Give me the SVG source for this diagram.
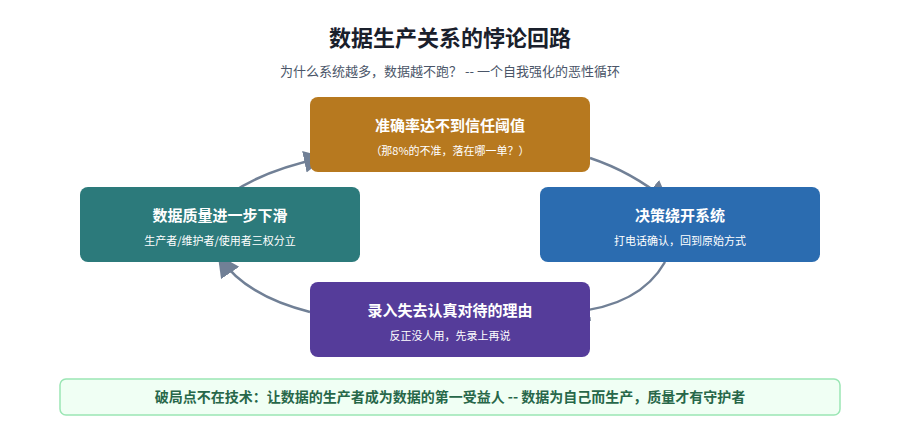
<svg xmlns="http://www.w3.org/2000/svg" width="900" height="430" viewBox="0 0 900 430">
<style>
text{font-family:"Noto Sans CJK SC","Noto Sans",sans-serif;text-anchor:middle}
.t{font-size:15px;font-weight:bold;fill:#fff}
.s{font-size:11px;fill:#fff}
.c{fill:none;stroke:#718096;stroke-width:2.5}
</style>
<defs>
<marker id="ah" markerUnits="userSpaceOnUse" markerWidth="24" markerHeight="24" refX="18" refY="11" orient="auto">
<path d="M0,0 L22,11 L0,22 z" fill="#718096"/>
</marker>
</defs>
<rect width="900" height="430" fill="#fff"/>
<text x="450" y="46" style="font-size:22px;font-weight:bold;fill:#1a202c">数据生产关系的悖论回路</text>
<text x="450" y="76" style="font-size:13px;fill:#4a5568">为什么系统越多，数据越不跑？ -- 一个自我强化的恶性循环</text>
<g id="connectors">
<path class="c" d="M590,158 Q632,172 666,200" marker-end="url(#ah)"/>
<path class="c" d="M665,262 Q640,306 572,312" marker-end="url(#ah)"/>
<path class="c" d="M310,312 Q246,296 220,258" marker-end="url(#ah)"/>
<path class="c" d="M228,195 Q264,170 322,158" marker-end="url(#ah)"/>
</g>
<g id="n1"><rect x="310" y="97" width="280" height="75" rx="8" fill="#b7791f"/>
<text class="t" x="450" y="131">准确率达不到信任阈值</text><text class="s" x="450" y="155">（那8%的不准，落在哪一单？）</text></g>
<g id="n2"><rect x="540" y="187" width="280" height="75" rx="8" fill="#2b6cb0"/>
<text class="t" x="680" y="221">决策绕开系统</text><text class="s" x="680" y="245">打电话确认，回到原始方式</text></g>
<g id="n3"><rect x="310" y="282" width="280" height="75" rx="8" fill="#553c9a"/>
<text class="t" x="450" y="316">录入失去认真对待的理由</text><text class="s" x="450" y="340">反正没人用，先录上再说</text></g>
<g id="n4"><rect x="80" y="187" width="280" height="75" rx="8" fill="#2c7a7b"/>
<text class="t" x="220" y="221">数据质量进一步下滑</text><text class="s" x="220" y="245">生产者/维护者/使用者三权分立</text></g>
<g id="banner"><rect x="60" y="379" width="780" height="36" rx="6" fill="#f0fff4" stroke="#9ae6b4" stroke-width="1.5"/>
<text x="450" y="402" style="font-size:14px;font-weight:bold;fill:#276749">破局点不在技术：让数据的生产者成为数据的第一受益人 -- 数据为自己而生产，质量才有守护者</text></g>
</svg>
